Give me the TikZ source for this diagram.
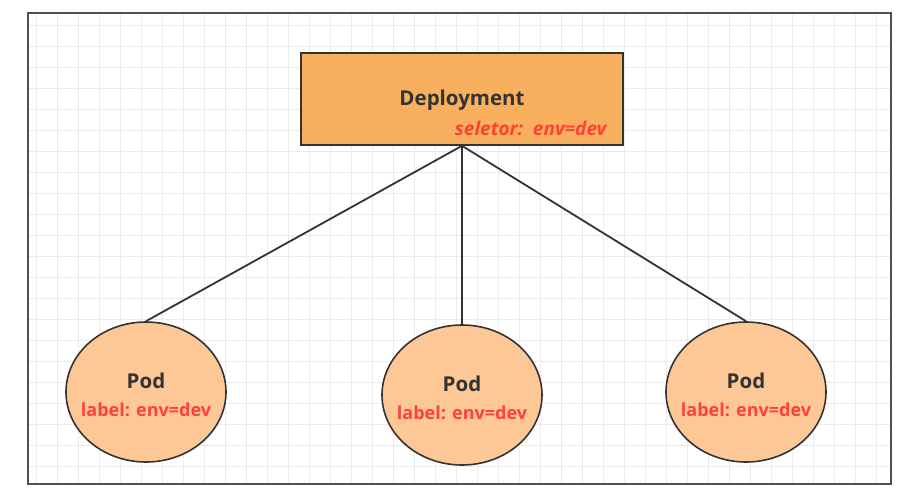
\documentclass[tikz,border=0pt]{standalone}
\usepackage{fontspec}
\setmainfont{Open Sans}
\usetikzlibrary{shapes.geometric}
\definecolor{deporange}{HTML}{F9B05E}
\definecolor{podorange}{HTML}{FDC896}
\definecolor{labred}{HTML}{FF4136}
\definecolor{txtgray}{HTML}{333333}
\definecolor{gridgray}{HTML}{EBEBEB}
\definecolor{framegray}{HTML}{4A5060}
\tikzset{
  depbox/.style={draw=txtgray, line width=1.6pt, fill=deporange, minimum width=322pt, minimum height=92pt, inner sep=0pt},
  podell/.style={ellipse, draw=txtgray, line width=1.6pt, fill=podorange, minimum width=160pt, minimum height=140pt, inner sep=0pt},
  link/.style={draw=txtgray, line width=1.8pt},
  maintxt/.style={font=\bfseries\fontsize{20.5}{22}\selectfont, text=txtgray},
  redtxt/.style={font=\bfseries\fontsize{18}{20}\selectfont, text=labred},
}
\begin{document}
\begin{tikzpicture}[x=1pt,y=-1pt]
\useasboundingbox (0,0) rectangle (904,490);
\fill[white] (0,0) rectangle (904,490);
\begin{scope}
\clip (28,13) rectangle (891,484);
\foreach \gx in {36,57,...,891} \draw[gridgray, line width=1pt] (\gx,13) -- (\gx,484);
\foreach \gy in {25,46,...,484} \draw[gridgray, line width=1pt] (28,\gy) -- (891,\gy);
\end{scope}
\node[draw=framegray, line width=1.5pt, minimum width=863pt, minimum height=471pt, inner sep=0pt] (frame) at (459.5,248.5) {};
\node[depbox] (dep) at (462,99) {};
\node[maintxt] (deptxt) at (462,100) {Deployment};
\node[redtxt, font=\bfseries\itshape\fontsize{19}{21}\selectfont, anchor=east] (sel) at (610,128) {seletor:\ \ env=dev};
\node[podell] (pod1) at (146,392) {};
\node[podell] (pod2) at (462,395) {};
\node[podell] (pod3) at (746,392) {};
\foreach \i in {1,2,3} {
  \node[maintxt] (pt\i) at ([yshift=11pt]pod\i.center) {Pod};
  \node[redtxt] (pl\i) at ([yshift=-18pt]pod\i.center) {label: env=dev};
}
\coordinate (depb) at (dep.south);
\draw[link] (depb) -- (pod1.north);
\draw[link] (depb) -- (pod2.north);
\draw[link] (depb) -- (pod3.north);
\end{tikzpicture}
\end{document}
